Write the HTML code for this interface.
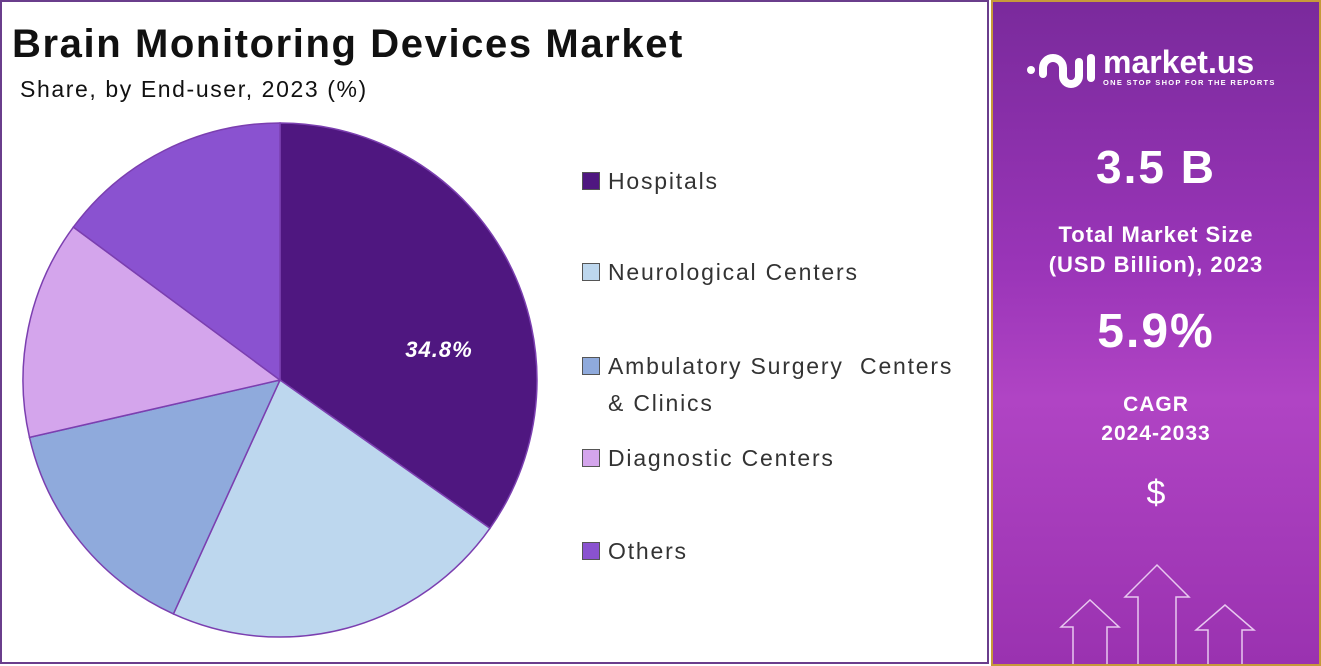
<!DOCTYPE html>
<html><head><meta charset="utf-8"><style>
body{margin:0;width:1321px;height:666px;overflow:hidden;background:#fff;font-family:"Liberation Sans",sans-serif;position:relative}
.left{position:absolute;left:0;top:0;width:985px;height:660px;border:2px solid #6a3d8c;background:#fff}
.t{position:absolute;left:10px;top:20px;font-size:40px;font-weight:bold;color:#111;letter-spacing:1.6px}
.s{position:absolute;left:18px;top:74px;font-size:23px;color:#111;letter-spacing:1.6px}
.lg{position:absolute;left:580px;font-size:23px;color:#333;letter-spacing:1.8px}
.lg i{display:inline-block;width:16px;height:16px;border:1px solid #555;margin-right:8px;vertical-align:-1px}
.right{position:absolute;left:991px;top:0;width:326px;height:662px;border:2px solid #c79a3a;background:linear-gradient(180deg,#7a2a9c 0%,#9a35b8 40%,#b044c4 60%,#9a32b0 100%);color:#fff;text-align:center;overflow:hidden}
.right div{position:absolute;width:100%;font-weight:bold}
</style></head><body>
<div class="left">
<div class="t">Brain Monitoring Devices Market</div>
<div class="s">Share, by End-user, 2023 (%)</div>
<svg width="985" height="660" style="position:absolute;left:-2px;top:-2px">
<g stroke="#7b3fb0" stroke-width="1.5">
<path d="M280,380 L280,123 A257,257 0 0 1 489.9,528.3 Z" fill="#4f1780"/>
<path d="M280,380 L489.9,528.3 A257,257 0 0 1 173.4,613.9 Z" fill="#bdd7ee"/>
<path d="M280,380 L173.4,613.9 A257,257 0 0 1 29.5,437.4 Z" fill="#8faadc"/>
<path d="M280,380 L29.5,437.4 A257,257 0 0 1 73.4,227.1 Z" fill="#d4a5ec"/>
<path d="M280,380 L73.4,227.1 A257,257 0 0 1 280,123 Z" fill="#8a52d0"/>
</g>
<text x="439" y="357" fill="#fff" font-size="22" font-weight="bold" font-style="italic" text-anchor="middle" font-family="Liberation Sans" letter-spacing="1">34.8%</text>
</svg>
<div class="lg" style="top:166px"><i style="background:#4f1780"></i>Hospitals</div>
<div class="lg" style="top:257px"><i style="background:#bdd7ee"></i>Neurological Centers</div>
<div class="lg" style="top:351px"><i style="background:#8faadc"></i>Ambulatory Surgery&nbsp; Centers</div>
<div class="lg" style="top:388px;left:606px">&amp; Clinics</div>
<div class="lg" style="top:443px"><i style="background:#d4a5ec"></i>Diagnostic Centers</div>
<div class="lg" style="top:536px"><i style="background:#8a52d0"></i>Others</div>
</div>
<div class="right">
<svg width="80" height="60" style="position:absolute;left:30px;top:38px" fill="none" stroke="#fff" stroke-width="8" stroke-linecap="round">
<circle cx="8" cy="30" r="4" fill="#fff" stroke="none"/>
<path d="M20,34 V28 a10,10 0 0 1 20,0 V36 a8,8 0 0 0 16,0 V22"/>
<path d="M68,38 V18"/>
</svg>
<div style="top:42px;left:110px;width:auto;font-size:32px;text-align:left">market.us</div>
<div style="top:76px;font-size:7.5px;left:110px;width:auto;letter-spacing:1.3px">ONE STOP SHOP FOR THE REPORTS</div>
<div style="top:138px;font-size:46px;letter-spacing:2px">3.5 B</div>
<div style="top:218px;font-size:22px;line-height:30px;letter-spacing:1px">Total Market Size<br>(USD Billion), 2023</div>
<div style="top:302px;font-size:48px;letter-spacing:2px">5.9%</div>
<div style="top:388px;font-size:21px;line-height:29px;letter-spacing:1px">CAGR<br>2024-2033</div>
<div style="top:472px;font-size:34px;font-weight:normal">$</div>
<svg width="326" height="666" style="position:absolute;left:0;top:0" fill="none" stroke="#e8c8f0" stroke-width="1.5">
<path d="M80,662 V625 H68 L97,598 L126,625 H114 V662"/>
<path d="M145,662 V595 H132 L164,563 L196,595 H183 V662"/>
<path d="M215,662 V628 H203 L232,603 L261,628 H249 V662"/>
</svg>
</div>
</body></html>
